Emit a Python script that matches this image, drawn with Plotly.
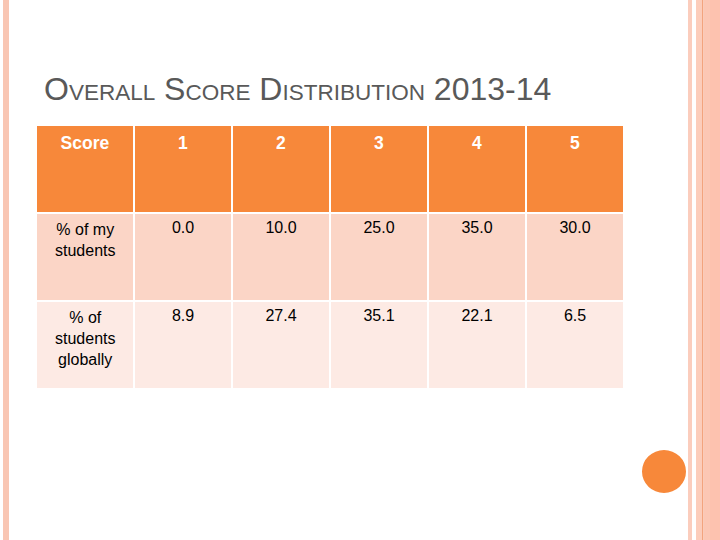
import plotly.graph_objects as go

# ---- data ----
row_labels = ["% of my<br>students", "% of<br>students<br>globally"]
score_labels = ["Score", "1", "2", "3", "4", "5"]
my_students = [0.0, 10.0, 25.0, 35.0, 30.0]
global_students = [8.9, 27.4, 35.1, 22.1, 6.5]

W, H = 720, 540

header_color = "#F7883A"
row1_color = "#FBD5C6"
row2_color = "#FDEAE4"
FONT = "Liberation Sans, Arial"

# table geometry (px)
T_LEFT, T_RIGHT, T_TOP = 36, 624, 125
ROW_H = 88

columns = [["", ""]]  # first column text drawn as centred annotations below
for a, b in zip(my_students, global_students):
    columns.append([f"{a:.1f}", f"{b:.1f}"])

fig = go.Figure()
fig.add_trace(go.Table(
    domain=dict(x=[T_LEFT / W, T_RIGHT / W], y=[0, 1 - T_TOP / H]),
    columnwidth=[1] * len(score_labels),
    header=dict(
        values=[f"<b>{s}</b>" for s in score_labels],
        fill_color=header_color,
        line=dict(color="white", width=2),
        font=dict(family=FONT, size=17.5, color="white"),
        align="center",
        height=ROW_H,
    ),
    cells=dict(
        values=columns,
        fill_color=[[row1_color, row2_color]] * len(score_labels),
        line=dict(color="white", width=2),
        font=dict(family=FONT, size=16, color="black"),
        align="center",
        height=ROW_H,
    ),
))

def px(x):
    return x / W

def py(y):
    return 1 - y / H

# first-column labels, centred line by line
col_w = (T_RIGHT - T_LEFT) / len(score_labels)
for i, lab in enumerate(row_labels):
    top = T_TOP + ROW_H * (i + 1) + 6
    fig.add_annotation(xref="paper", yref="paper", x=px(T_LEFT + col_w / 2), y=py(top),
                       xanchor="center", yanchor="top", align="center", showarrow=False,
                       text=lab, font=dict(family=FONT, size=16, color="black"))

shapes = []
# left border stripe
shapes.append(dict(type="rect", xref="paper", yref="paper", x0=px(3), x1=px(9), y0=0, y1=1,
                   fillcolor="#F9C6B3", line=dict(width=0), layer="below"))
# right border stripes
for x0, x1, c in [(688, 692, "#FBCDBD"), (696, 702, "#FCCDBB"), (702, 703.5, "#F3A47E"),
                  (703.5, 710, "#FCC7B4"), (710, 720, "#FDC2AF")]:
    shapes.append(dict(type="rect", xref="paper", yref="paper", x0=px(x0), x1=px(x1), y0=0, y1=1,
                       fillcolor=c, line=dict(width=0), layer="below"))
# orange circle
shapes.append(dict(type="circle", xref="paper", yref="paper", x0=px(642), x1=px(686),
                   y0=py(493), y1=py(450), fillcolor="#F7883A", line=dict(width=0)))

BIG, SMALL = 32, 22.5

def smallcaps(word):
    return f"<span style='font-size:{BIG}px'>{word[0]}</span><span style='font-size:{SMALL}px'>{word[1:]}</span>"

title = " ".join([smallcaps("OVERALL"), smallcaps("SCORE"), smallcaps("DISTRIBUTION"),
                  f"<span style='font-size:{BIG}px'>2013-14</span>"])

fig.add_annotation(xref="paper", yref="paper", x=px(42), y=py(109.5), xanchor="left", yanchor="bottom",
                   text=title, showarrow=False,
                   font=dict(family=FONT, size=BIG, color="#595959"))

fig.update_layout(width=W, height=H, margin=dict(l=0, r=0, t=0, b=0),
                  paper_bgcolor="white", plot_bgcolor="white", shapes=shapes)

fig.write_html("out.html", config={"displayModeBar": False},
               post_script="document.body.style.margin='0';")
